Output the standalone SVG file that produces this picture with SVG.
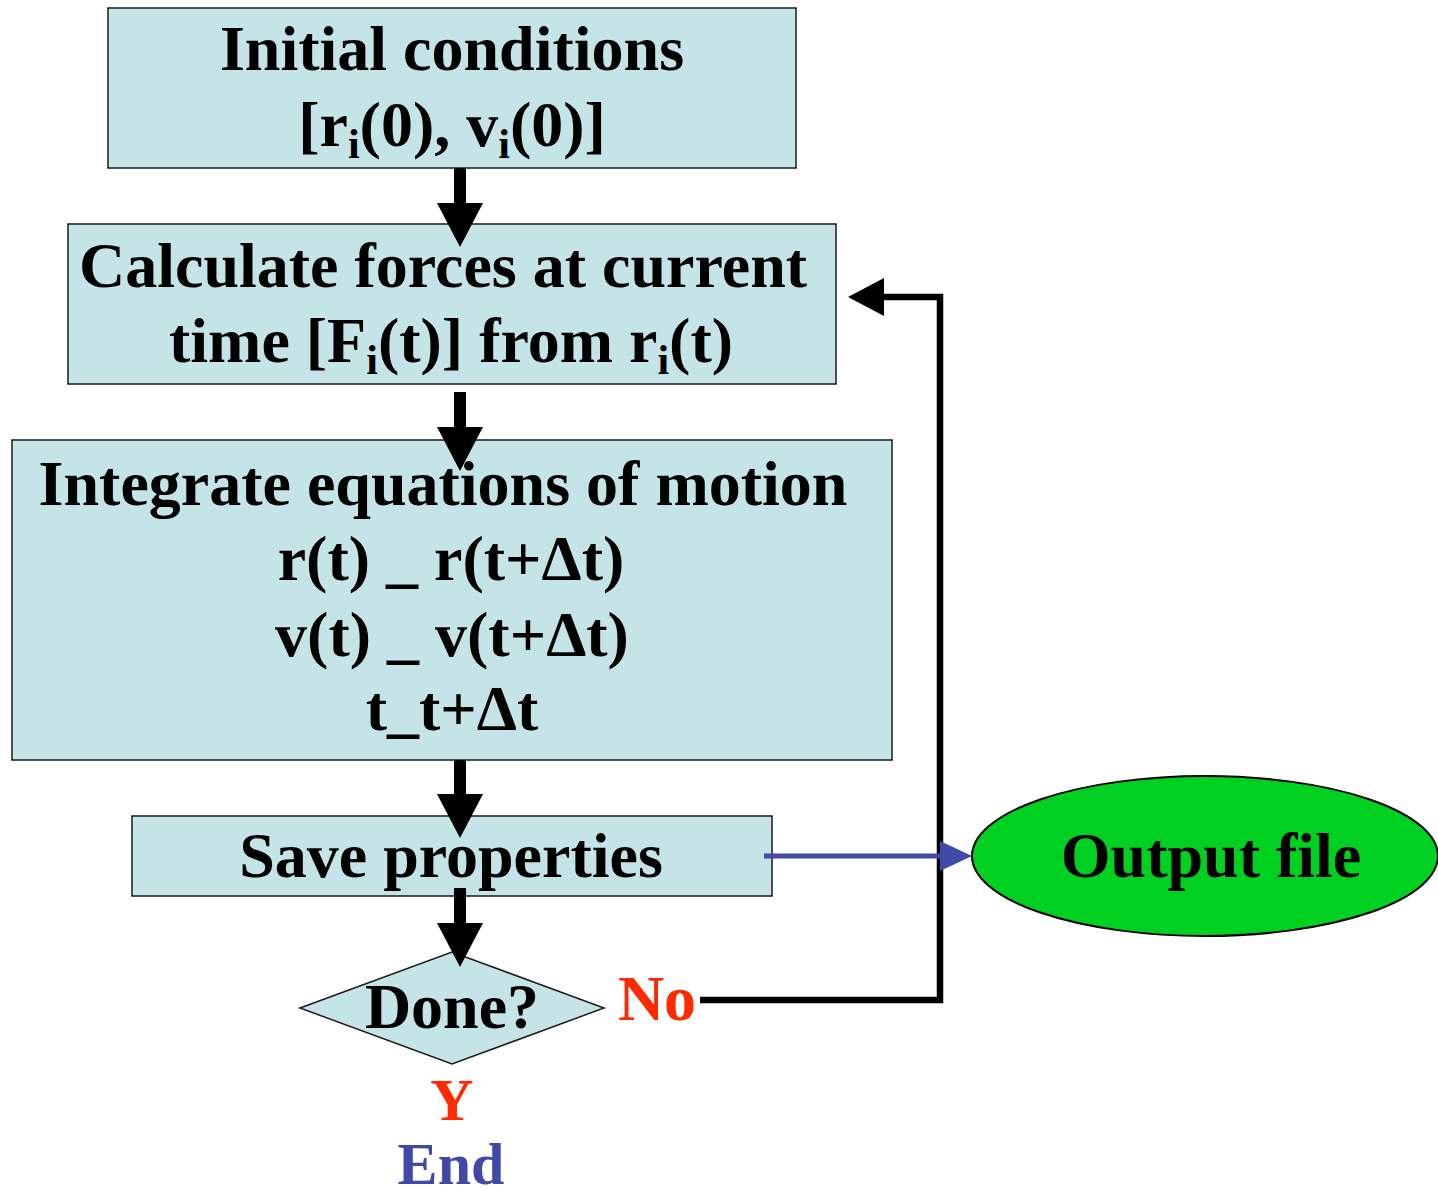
<svg xmlns="http://www.w3.org/2000/svg" width="1438" height="1190" viewBox="0 0 1438 1190">
  <style>
    .box { fill: #c5e4e8; stroke: #1a1a1a; stroke-width: 1.5; }
    .t { font-family: "Liberation Serif", "Times New Roman", serif; font-weight: bold; font-size: 64px; fill: #000; text-anchor: middle; }
    .sub { font-size: 42px; }
    .small { font-size: 60px; }
    .shaft { fill: none; stroke: #000; stroke-width: 12; }
    .loop { fill: none; stroke: #000; stroke-width: 6.5; stroke-linejoin: miter; }
    .blue { fill: none; stroke: #4048a8; stroke-width: 5; }
    .red { fill: #ff2a00; }
    .navy { fill: #4048a8; }
  </style>
  <defs>
    <marker id="headDown" markerUnits="userSpaceOnUse" markerWidth="44" markerHeight="46" viewBox="0 0 44 46" refX="2" refY="23" orient="auto">
      <path d="M0,0 L44,23 L0,46 Z" fill="#000"/>
    </marker>
    <marker id="headLoop" markerUnits="userSpaceOnUse" markerWidth="36" markerHeight="38" viewBox="0 0 36 38" refX="2" refY="19" orient="auto">
      <path d="M0,0 L36,19 L0,38 Z" fill="#000"/>
    </marker>
    <marker id="headBlue" markerUnits="userSpaceOnUse" markerWidth="32" markerHeight="30" viewBox="0 0 32 30" refX="2" refY="15" orient="auto">
      <path d="M0,0 L32,15 L0,30 Z" fill="#4048a8"/>
    </marker>
  </defs>

  <g id="init">
    <rect class="box" x="108" y="8" width="688" height="160"/>
    <text class="t" x="452" y="70">Initial conditions</text>
    <text class="t" x="452" y="146">[r<tspan class="sub" dy="12">i</tspan><tspan dy="-12">(0), v</tspan><tspan class="sub" dy="12">i</tspan><tspan dy="-12">(0)]</tspan></text>
  </g>

  <g id="forces">
    <rect class="box" x="68" y="224" width="768" height="160"/>
    <text class="t" x="443" y="287">Calculate forces at current</text>
    <text class="t" x="451" y="362">time [F<tspan class="sub" dy="12">i</tspan><tspan dy="-12">(t)] from r</tspan><tspan class="sub" dy="12">i</tspan><tspan dy="-12">(t)</tspan></text>
  </g>

  <g id="integrate">
    <rect class="box" x="12" y="440" width="880" height="320"/>
    <text class="t" x="443" y="505">Integrate equations of motion</text>
    <text class="t" x="451" y="580">r(t) _ r(t+Δt)</text>
    <text class="t" x="452" y="656">v(t) _ v(t+Δt)</text>
    <text class="t" x="452" y="730">t_t+Δt</text>
  </g>

  <g id="save">
    <rect class="box" x="132" y="816" width="640" height="80"/>
    <text class="t" x="451" y="877">Save properties</text>
  </g>

  <g id="done">
    <polygon class="box" points="300,1008 452,952 604,1008 452,1064"/>
    <text class="t" x="452" y="1028">Done?</text>
  </g>

  <g id="output">
    <ellipse cx="1205" cy="856" rx="233" ry="80" fill="#00d020" stroke="#000" stroke-width="2"/>
    <text class="t" x="1211" y="877">Output file</text>
  </g>

  <g id="end">
    <text class="t small red" x="452" y="1120">Y</text>
    <text class="t small navy" x="451" y="1184">End</text>
  </g>

  <g id="connectors">
    <line class="shaft" x1="460" y1="168" x2="460" y2="205" marker-end="url(#headDown)"/>
    <line class="shaft" x1="460" y1="392" x2="460" y2="429" marker-end="url(#headDown)"/>
    <line class="shaft" x1="460" y1="760" x2="460" y2="796" marker-end="url(#headDown)"/>
    <line class="shaft" x1="460" y1="888" x2="460" y2="925" marker-end="url(#headDown)"/>
    <path class="loop" d="M700,1000 H940 V297 H882" marker-end="url(#headLoop)"/>
    <path class="blue" d="M764,856 H942" marker-end="url(#headBlue)"/>
    <text class="t red" x="657" y="1020">No</text>
  </g>
</svg>
